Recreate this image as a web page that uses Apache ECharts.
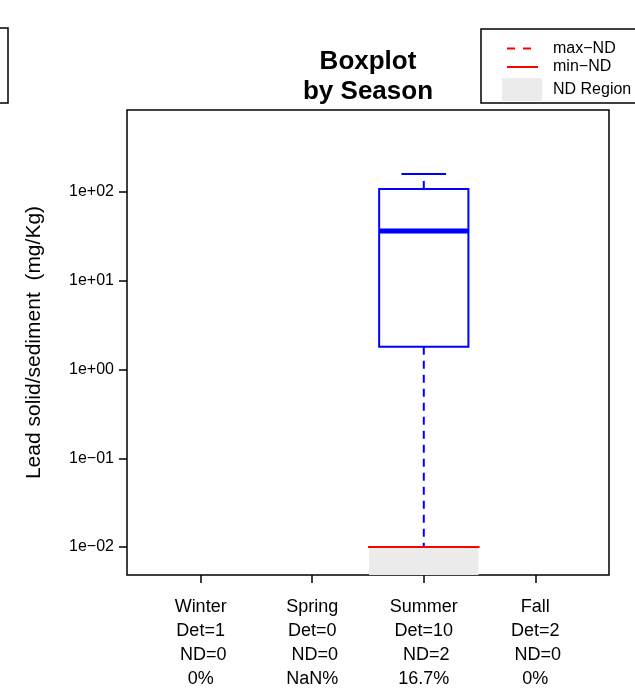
<!DOCTYPE html>
<html>
<head>
<meta charset="utf-8">
<style>
  html, body { margin: 0; padding: 0; background: #ffffff; }
  #chart { width: 635px; height: 697px; }
</style>
<script src="https://cdn.jsdelivr.net/npm/echarts@6/dist/echarts.min.js"></script>
</head>
<body>
<div id="chart"></div>
<script>
// ---------------- data ----------------
var categories = ['Winter', 'Spring', 'Summer', 'Fall'];
var detCounts = [1, 0, 10, 2];
var ndCounts = [0, 0, 2, 0];
var ndPercent = ['0%', 'NaN%', '16.7%', '0%'];
// box statistics (mg/Kg): [category index (1-based), lowWhisker, q1, median, q3, highWhisker]
var boxStats = [
  [3, 0.01, 1.8, 36.5, 108, 160]
];
// non-detect region: [category index, min-ND, max-ND]
var ndRegions = [
  [3, 0.01, 0.01]
];
var yTickValues = [0.01, 0.1, 1, 10, 100];
var yTickLabels = ['1e\u221202', '1e\u221201', '1e+00', '1e+01', '1e+02'];
var yRange = [0.00484, 840];
var legendLabels = ['max\u2212ND', 'min\u2212ND', 'ND Region'];

// ---------------- chart ----------------
var FONT = 'Liberation Sans, Arial, Helvetica, sans-serif';
var log10 = function (v) { return Math.log(v) / Math.LN10; };
var chart = echarts.init(document.getElementById('chart'), null, { renderer: 'canvas' });

var xTicks = categories.map(function (c, i) { return i + 1; });
var xLabelText = categories.map(function (c, i) {
  return c + '\nDet=' + detCounts[i] + '\n ND=' + ndCounts[i] + '\n' + ndPercent[i];
});

var BLUE = '#0000ff', RED = '#ff0000', GREY = '#ebebeb';

var option = {
  animation: false,
  backgroundColor: '#ffffff',
  title: {
    text: 'Boxplot\nby Season',
    left: 368, top: 47, textAlign: 'center', padding: 0,
    textStyle: { fontFamily: FONT, fontSize: 26, fontWeight: 'bold', color: '#000', lineHeight: 30 }
  },
  grid: {
    left: 127, top: 110, width: 482, height: 465,
    show: true, borderColor: '#000', borderWidth: 1.5, backgroundColor: 'transparent'
  },
  xAxis: {
    type: 'value', min: 0.34, max: 4.66,
    axisLine: { show: false, onZero: false },
    splitLine: { show: false },
    axisTick: { show: true, length: 8, lineStyle: { color: '#000', width: 1.5 }, customValues: xTicks },
    axisLabel: {
      show: true, margin: 20, customValues: xTicks,
      fontFamily: FONT, fontSize: 18, lineHeight: 24, color: '#000', align: 'center',
      formatter: function (v) { return xLabelText[Math.round(v) - 1] || ''; }
    }
  },
  yAxis: {
    type: 'value', min: log10(yRange[0]), max: log10(yRange[1]),
    name: 'Lead solid/sediment  (mg/Kg)', nameLocation: 'middle', nameRotate: 90, nameGap: 82,
    nameTextStyle: { fontFamily: FONT, fontSize: 21, color: '#000' },
    axisLine: { show: false, onZero: false },
    splitLine: { show: false },
    axisTick: { show: true, length: 8, lineStyle: { color: '#000', width: 1.5 }, customValues: yTickValues.map(log10) },
    axisLabel: {
      show: true, margin: 13, customValues: yTickValues.map(log10),
      fontFamily: FONT, fontSize: 16, color: '#000',
      formatter: function (v) {
        for (var i = 0; i < yTickValues.length; i++) {
          if (Math.abs(log10(yTickValues[i]) - v) < 1e-6) return yTickLabels[i];
        }
        return '';
      }
    }
  },
  series: [
    {
      type: 'custom',
      name: 'ND Region',
      data: ndRegions,
      z: 2,
      renderItem: function (params, api) {
        var x = api.value(0), maxND = api.value(2);
        var yMin = log10(yRange[0]);
        var pTL = api.coord([x - 0.49, log10(maxND)]);
        var pBR = api.coord([x + 0.49, yMin]);
        return {
          type: 'rect',
          shape: { x: pTL[0], y: pTL[1], width: pBR[0] - pTL[0], height: pBR[1] - pTL[1] },
          style: { fill: GREY }
        };
      }
    },
    {
      type: 'custom',
      name: 'box',
      data: boxStats,
      z: 3,
      renderItem: function (params, api) {
        var x = api.value(0);
        var lo = log10(api.value(1)), q1 = log10(api.value(2)), md = log10(api.value(3)),
            q3 = log10(api.value(4)), hi = log10(api.value(5));
        var bw = 0.4, cw = 0.2;
        var c = function (dx, y) { return api.coord([x + dx, y]); };
        var line = function (a, b, w, dash) {
          return {
            type: 'line',
            shape: { x1: a[0], y1: a[1], x2: b[0], y2: b[1] },
            style: { stroke: BLUE, lineWidth: w, lineDash: dash || null }
          };
        };
        var tl = c(-bw, q3), br = c(bw, q1);
        return {
          type: 'group',
          children: [
            line(c(0, q1), c(0, lo), 2, [8, 6]),
            line(c(0, q3), c(0, hi), 2, [8, 6]),
            line(c(-cw, hi), c(cw, hi), 2),
            line(c(-cw, lo), c(cw, lo), 2),
            {
              type: 'rect',
              shape: { x: tl[0], y: tl[1], width: br[0] - tl[0], height: br[1] - tl[1] },
              style: { fill: 'none', stroke: BLUE, lineWidth: 2 }
            },
            line(c(-bw, md), c(bw, md), 5)
          ]
        };
      }
    },
    {
      type: 'custom',
      name: 'ND lines',
      data: ndRegions,
      z: 4,
      renderItem: function (params, api) {
        var x = api.value(0);
        var minP1 = api.coord([x - 0.5, log10(api.value(1))]);
        var minP2 = api.coord([x + 0.5, log10(api.value(1))]);
        var maxP1 = api.coord([x - 0.5, log10(api.value(2))]);
        var maxP2 = api.coord([x + 0.5, log10(api.value(2))]);
        return {
          type: 'group',
          children: [
            { type: 'line', shape: { x1: maxP1[0], y1: maxP1[1], x2: maxP2[0], y2: maxP2[1] },
              style: { stroke: RED, lineWidth: 2, lineDash: [8, 8] } },
            { type: 'line', shape: { x1: minP1[0], y1: minP1[1], x2: minP2[0], y2: minP2[1] },
              style: { stroke: RED, lineWidth: 2 } }
          ]
        };
      }
    }
  ],
  graphic: [
    // partial box at far left
    { type: 'rect', shape: { x: -60, y: 28, width: 68, height: 75 },
      style: { fill: '#fff', stroke: '#000', lineWidth: 1.5 } },
    // legend box
    { type: 'rect', shape: { x: 481, y: 29, width: 200, height: 74 },
      style: { fill: '#fff', stroke: '#000', lineWidth: 1.5 } },
    { type: 'line', shape: { x1: 507, y1: 48.5, x2: 531, y2: 48.5 },
      style: { stroke: RED, lineWidth: 2, lineDash: [8, 8] } },
    { type: 'line', shape: { x1: 507, y1: 67, x2: 538, y2: 67 },
      style: { stroke: RED, lineWidth: 2 } },
    { type: 'rect', shape: { x: 502, y: 78, width: 40, height: 23 },
      style: { fill: GREY } },
    { type: 'text', x: 553, y: 48.5,
      style: { text: legendLabels[0], font: '16px ' + FONT, fill: '#000', textVerticalAlign: 'middle' } },
    { type: 'text', x: 553, y: 67,
      style: { text: legendLabels[1], font: '16px ' + FONT, fill: '#000', textVerticalAlign: 'middle' } },
    { type: 'text', x: 553, y: 89.5,
      style: { text: legendLabels[2], font: '16px ' + FONT, fill: '#000', textVerticalAlign: 'middle' } }
  ]
};
chart.setOption(option);
</script>
</body>
</html>
